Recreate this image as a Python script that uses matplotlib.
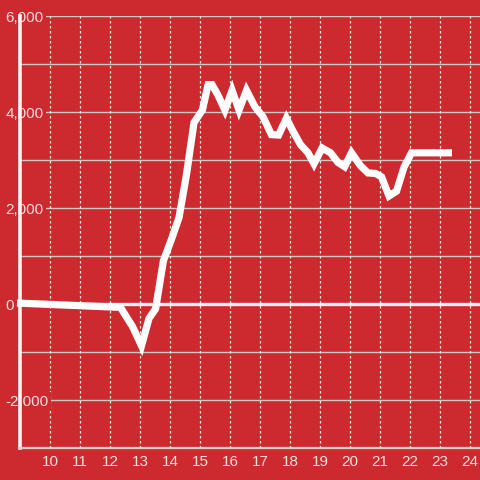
import matplotlib.pyplot as plt
import numpy as np

hours = [8.9, 12.35, 12.75, 13.05, 13.3, 13.52, 13.78, 14.05, 14.3, 14.55,
         14.8, 15.08, 15.27, 15.4, 15.6, 15.83, 16.07, 16.3, 16.55, 16.83, 17.1,
         17.38, 17.62, 17.88, 18.1, 18.35, 18.6, 18.8, 19.07, 19.35, 19.6, 19.82,
         20.05, 20.35, 20.6, 20.85, 21.05, 21.3, 21.55, 21.8, 22.05, 23.4]
values = [20, -70, -470, -870, -300, -100, 900, 1350, 1800, 2700,
          3780, 4040, 4570, 4570, 4350, 4040, 4450, 4040, 4450, 4110, 3900,
          3530, 3520, 3870, 3600, 3320, 3150, 2920, 3250, 3150, 2950, 2860,
          3150, 2880, 2730, 2720, 2650, 2250, 2350, 2850, 3150, 3150]

xticks = list(range(10, 25))
yticks = list(range(-2000, 6001, 2000))

red = '#cd2a2f'
txt = '#f6dede'

fig = plt.figure(figsize=(4.8, 4.8), dpi=100)
fig.patch.set_facecolor(red)
ax = fig.add_axes([20 / 480, 32 / 480, 460 / 480, 432 / 480])
ax.set_facecolor(red)

ax.set_xlim(9.0, 24.333)
ax.set_ylim(-3000, 6000)

# grid
for v in range(-3000, 6001, 1000):
    if v == 0:
        ax.axhline(v, color='#f2f2f2', lw=2.4, zorder=1)
    elif v > -3000:
        ax.axhline(v, color='#c8c8c8', lw=1.0, zorder=1)
for t in xticks:
    ax.axvline(t, color='#e8e8e8', lw=0.9, ls=(0, (2, 2)), zorder=1)

ax.plot(hours, values, color='white', lw=5.2, solid_joinstyle='miter',
        solid_capstyle='butt', clip_on=False, zorder=3)

for s in ['top', 'right']:
    ax.spines[s].set_visible(False)
ax.spines['left'].set_color('#f4f4f4')
ax.spines['left'].set_linewidth(2.6)
ax.spines['left'].set_zorder(2)
ax.spines['bottom'].set_color('#d0d0d0')
ax.spines['bottom'].set_linewidth(1.6)

ax.set_xticks(xticks)
ax.set_xticklabels([str(t) for t in xticks])
ax.set_yticks(yticks)
ax.set_yticklabels([f'{v:,}' for v in yticks])
ax.tick_params(axis='both', length=0, labelsize=11, labelcolor=txt)
ax.tick_params(axis='x', pad=5)
ax.tick_params(axis='y', pad=10.5)
for lab in ax.get_yticklabels():
    lab.set_horizontalalignment('left')
    lab.set_fontfamily('Liberation Sans')
    lab.set_bbox(dict(facecolor=red, edgecolor='none', pad=1.5))
    lab.set_zorder(5)
for lab in ax.get_xticklabels():
    lab.set_fontfamily('Liberation Sans')

fig.savefig('out.png', dpi=100, facecolor=red)
